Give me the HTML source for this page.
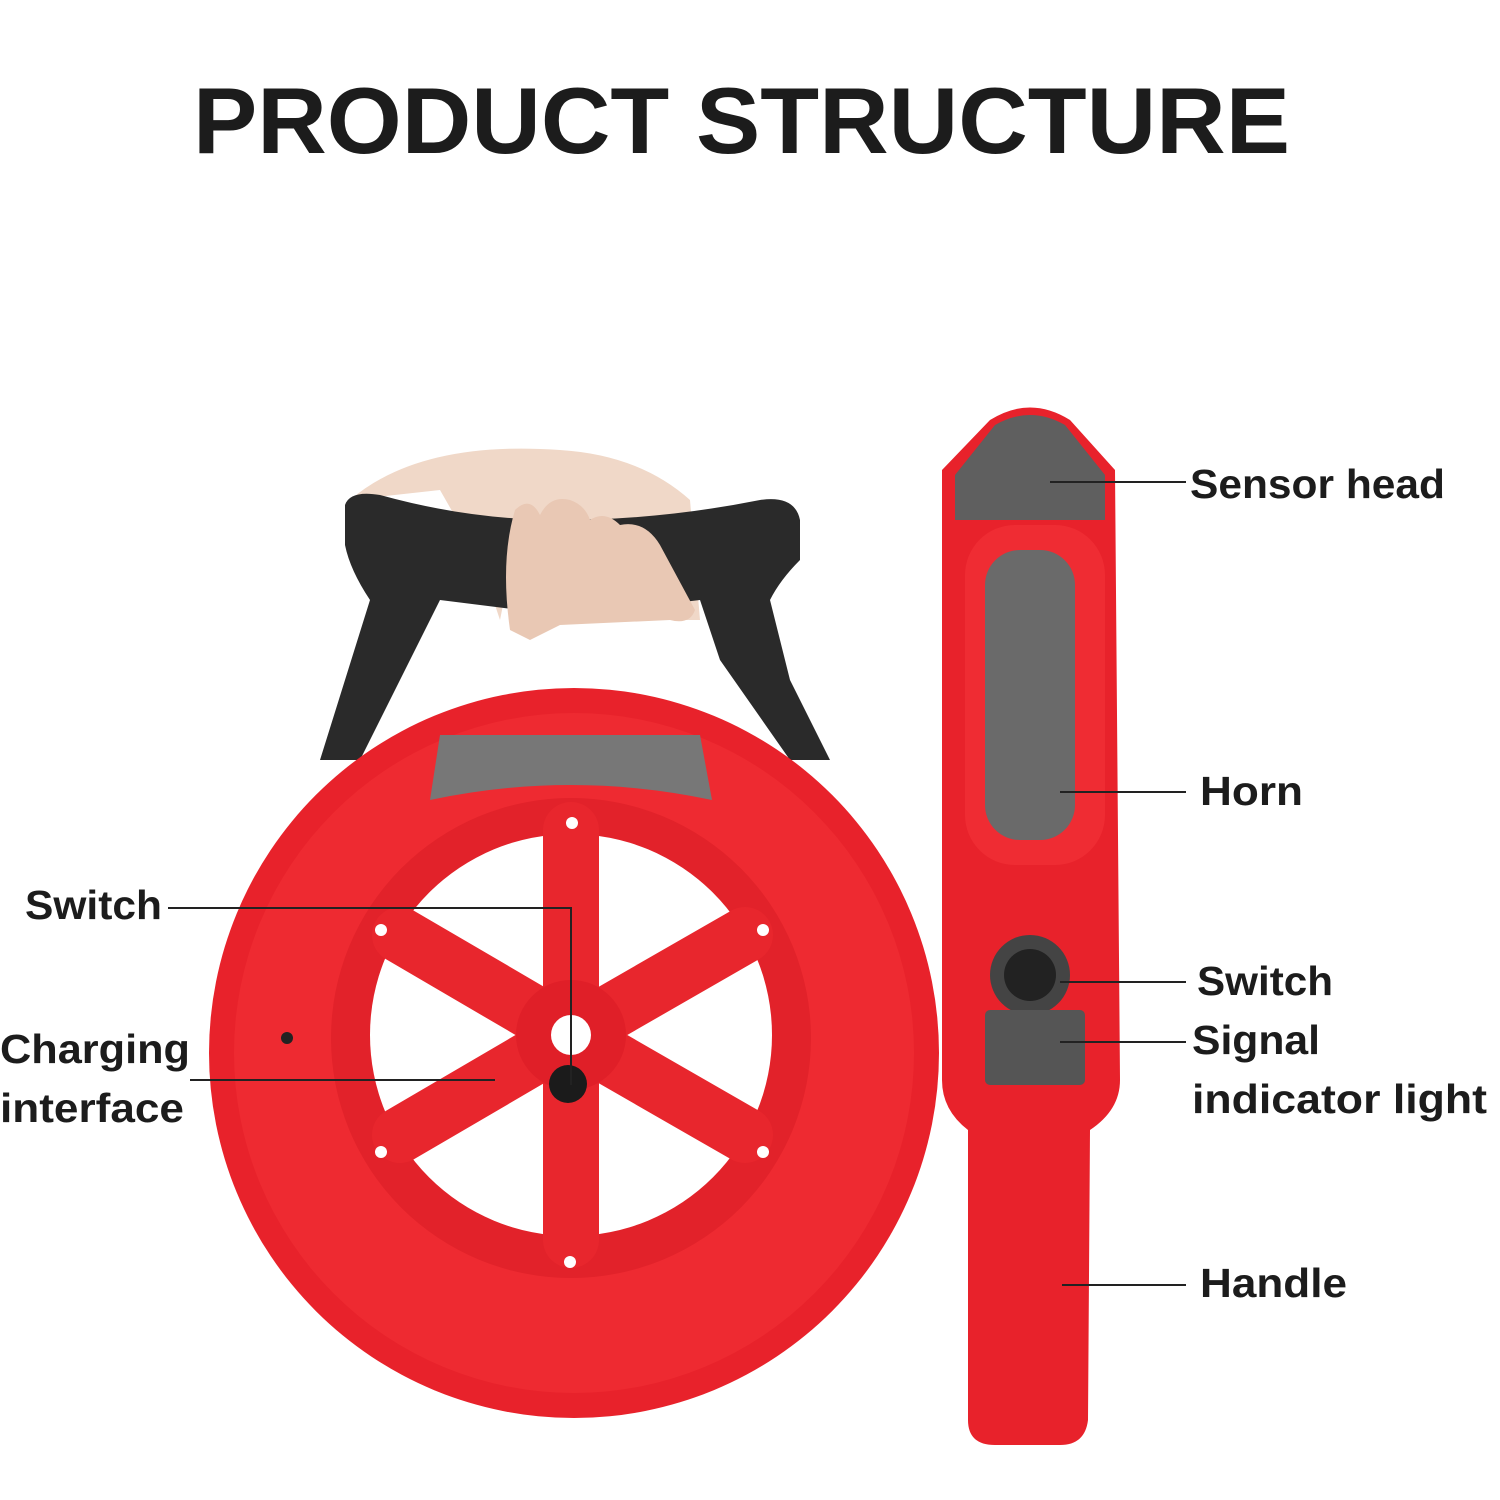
<!DOCTYPE html>
<html><head><meta charset="utf-8"><style>
html,body{margin:0;padding:0;background:#fff;}
svg{display:block}
text{font-family:"Liberation Sans",sans-serif;font-weight:bold;fill:#1c1c1c}
</style></head><body>
<svg width="1500" height="1500" viewBox="0 0 1500 1500" xmlns="http://www.w3.org/2000/svg">
<rect width="1500" height="1500" fill="#fff"/>
<text x="193" y="153" font-size="94" textLength="1097" lengthAdjust="spacingAndGlyphs">PRODUCT STRUCTURE</text>

<!-- hand -->
<path d="M350 500 Q420 440 560 450 Q640 455 690 500 L700 620 L660 620 L640 540 L600 520 L560 520 L520 520 L500 620 L480 560 L440 490 Z" fill="#f0d8c8"/>

<!-- handle black -->
<path d="M345 505 Q350 490 380 495 Q470 520 560 520 Q660 520 760 500 Q795 495 800 520 L800 560 Q780 580 770 600 L790 680 L830 760 L790 760 L720 660 L700 600 Q620 610 520 610 L440 600 L410 660 L360 760 L320 760 L345 680 L370 600 Q350 570 345 545 Z" fill="#2a2a2a"/>
<path d="M510 630 Q500 560 515 510 Q530 495 540 515 Q550 495 570 500 Q585 505 590 520 Q605 510 620 525 Q645 520 660 545 L695 610 Q690 625 670 620 L560 625 L530 640 Z" fill="#e9c8b4"/>

<!-- reel -->
<circle cx="574" cy="1053" r="365" fill="#e8222b"/>
<circle cx="574" cy="1053" r="340" fill="#ee2a31"/>
<circle cx="571" cy="1038" r="240" fill="#e2222a"/>
<path d="M440 735 L700 735 L712 800 Q571 770 430 800 Z" fill="#777"/>
<circle cx="571" cy="1035" r="201" fill="#fff"/>
<g stroke="#e8262d" stroke-width="56" stroke-linecap="round">
<line x1="571" y1="1035" x2="571" y2="830"/>
<line x1="571" y1="1035" x2="571" y2="1240"/>
<line x1="571" y1="1035" x2="400" y2="935"/>
<line x1="571" y1="1035" x2="745" y2="935"/>
<line x1="571" y1="1035" x2="400" y2="1135"/>
<line x1="571" y1="1035" x2="745" y2="1135"/>
</g>
<circle cx="571" cy="1035" r="55" fill="#e01f28"/>
<circle cx="571" cy="1035" r="20" fill="#fff"/>
<circle cx="568" cy="1084" r="19" fill="#1b1b1b"/>
<circle cx="287" cy="1038" r="6" fill="#222"/>
<g fill="#fff"><circle cx="572" cy="823" r="6"/><circle cx="381" cy="930" r="6"/><circle cx="763" cy="930" r="6"/><circle cx="381" cy="1152" r="6"/><circle cx="763" cy="1152" r="6"/><circle cx="570" cy="1262" r="6"/></g>

<!-- wand -->
<path d="M990 420 Q1030 395 1070 420 L1115 470 L1120 1080 Q1120 1110 1090 1130 L1088 1420 Q1085 1445 1060 1445 L995 1445 Q968 1445 968 1420 L968 1130 Q942 1110 942 1080 L942 470 Z" fill="#e8222b"/>
<path d="M995 425 Q1030 405 1065 425 L1105 475 L1105 520 L955 520 L955 475 Z" fill="#5f5f5f"/>
<rect x="965" y="525" width="140" height="340" rx="50" fill="#ef2c33"/>
<rect x="985" y="550" width="90" height="290" rx="35" fill="#6a6a6a"/>
<circle cx="1030" cy="975" r="40" fill="#444"/>
<circle cx="1030" cy="975" r="26" fill="#222"/>
<rect x="985" y="1010" width="100" height="75" rx="5" fill="#555"/>

<!-- lines -->
<g stroke="#222" stroke-width="2" fill="none">
<line x1="1050" y1="482" x2="1186" y2="482"/>
<line x1="1060" y1="792" x2="1186" y2="792"/>
<line x1="1060" y1="982" x2="1186" y2="982"/>
<line x1="1060" y1="1042" x2="1186" y2="1042"/>
<line x1="1062" y1="1285" x2="1186" y2="1285"/>
<polyline points="168,908 571,908 571,1085"/>
<line x1="190" y1="1080" x2="495" y2="1080"/>
</g>

<text x="1190" y="498" font-size="41" textLength="255" lengthAdjust="spacingAndGlyphs">Sensor head</text>
<text x="1200" y="805" font-size="41" textLength="103" lengthAdjust="spacingAndGlyphs">Horn</text>
<text x="1197" y="995" font-size="41" textLength="136" lengthAdjust="spacingAndGlyphs">Switch</text>
<text x="1192" y="1054" font-size="41" textLength="128" lengthAdjust="spacingAndGlyphs">Signal</text>
<text x="1192" y="1113" font-size="41" textLength="295" lengthAdjust="spacingAndGlyphs">indicator light</text>
<text x="1200" y="1297" font-size="41" textLength="147" lengthAdjust="spacingAndGlyphs">Handle</text>
<text x="25" y="919" font-size="41" textLength="137" lengthAdjust="spacingAndGlyphs">Switch</text>
<text x="0" y="1063" font-size="41" textLength="190" lengthAdjust="spacingAndGlyphs">Charging</text>
<text x="0" y="1122" font-size="41" textLength="184" lengthAdjust="spacingAndGlyphs">interface</text>
</svg>
</body></html>
